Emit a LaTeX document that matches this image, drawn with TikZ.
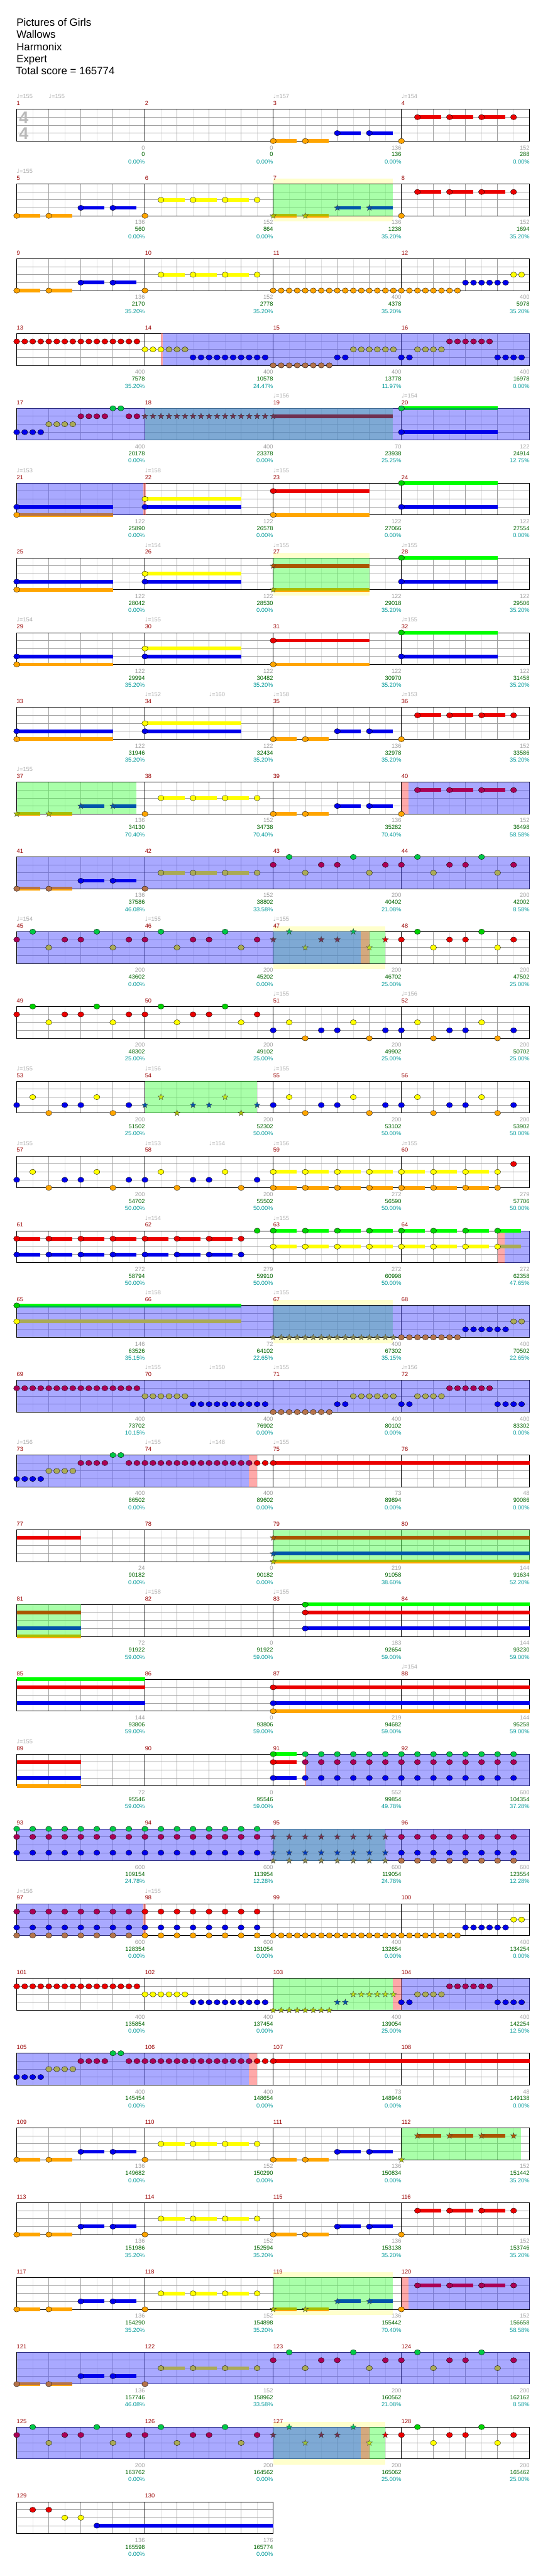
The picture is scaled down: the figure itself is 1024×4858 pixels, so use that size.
\documentclass[tikz,border=0pt]{standalone}
\usepackage{fontspec}
\setmainfont{Liberation Sans}
\newfontfamily\qsym{DejaVu Sans}
\usetikzlibrary{shapes.geometric}
\definecolor{cG}{RGB}{0,210,0}\definecolor{cGs}{RGB}{0,255,0}\definecolor{cGo}{RGB}{0,200,70}\definecolor{cGd}{RGB}{0,170,85}
\definecolor{cR}{RGB}{235,0,0}\definecolor{cRo}{RGB}{170,0,85}
\definecolor{cY}{RGB}{255,255,0}\definecolor{cYo}{RGB}{170,170,85}
\definecolor{cB}{RGB}{0,0,235}
\definecolor{cO}{RGB}{255,165,0}\definecolor{cOo}{RGB}{180,115,75}
\definecolor{sO}{RGB}{170,190,0}\definecolor{sB}{RGB}{0,85,170}\definecolor{sR}{RGB}{170,85,0}\definecolor{sY}{RGB}{190,230,20}\definecolor{sG}{RGB}{0,200,60}
\definecolor{tR}{RGB}{112,48,80}\definecolor{tO}{RGB}{138,138,80}\definecolor{tB}{RGB}{0,60,190}\definecolor{tG}{RGB}{0,190,90}\definecolor{tY}{RGB}{150,190,60}
\definecolor{od}{RGB}{85,85,255}\definecolor{sp}{RGB}{85,255,85}\definecolor{pk}{RGB}{255,85,85}\definecolor{hl}{RGB}{255,255,204}
\definecolor{mred}{RGB}{153,0,0}\definecolor{sgray}{RGB}{160,160,160}\definecolor{sgreen}{RGB}{0,100,0}\definecolor{steal}{RGB}{0,153,153}\definecolor{tgray}{RGB}{170,170,170}
\definecolor{gA}{RGB}{225,225,225}\definecolor{gB}{RGB}{160,160,160}
\newcommand\qfs{\fontsize{11}{13}\selectfont}
\tikzset{
 rowat/.style={xshift=31.5pt,yshift={-(206+141*(#1-1))*1pt},x=60.5pt,y=-1pt},
 mnum/.style={anchor=west,inner sep=0pt,text=mred,font=\qfs},
 lg/.style={anchor=east,inner sep=0pt,text=sgray,font=\qfs},
 lgr/.style={anchor=east,inner sep=0pt,text=sgreen,font=\qfs},
 ltl/.style={anchor=east,inner sep=0pt,text=steal,font=\qfs},
 tmp/.style={anchor=west,inner sep=0pt,text=tgray,font=\qfs},
 qstar/.style={star,star points=5,star point ratio=2.4,minimum size=12pt,inner sep=0pt,draw=black!75,line width=0.4pt},
 ttl/.style={anchor=base west,inner sep=0pt,font=\fontsize{20}{24}\selectfont},
 tsig/.style={inner sep=0pt,text=black!27,font=\fontsize{32}{32}\selectfont\bfseries}
}
\newcommand\qN[3]{\filldraw[fill=#3,draw=black,line width=0.4pt] (#1,{15*#2}) ellipse [x radius=5.8pt,y radius=5pt];}
\newcommand\qS[3]{\node[qstar,fill=#3] at (#1,{15*#2}) {};}
\newcommand\qU[4]{\fill[#4] (#1,{15*#2-3.5}) rectangle (#3,{15*#2+3.5});}
\newcommand\qUo[3]{\fill[cO] (#1,56.5) rectangle (#2,63.5);\fill[#3] (#1,56.5) rectangle (#2,61.5);}
\newcommand\qUg[2]{\fill[cGs] (#1,-3.5) rectangle (#2,0);\fill[cGd] (#1,0) rectangle (#2,3.5);}
\newcommand\qNU[5]{\qU{#1}{#2}{#3}{#5}\qN{#1}{#2}{#4}}
\newcommand\qCellA[4]{\qN{#1}{1}{#2}\qN{#1+0.5}{0}{#3}\qN{#1+1}{2}{#4}\qN{#1+1.5}{1}{#2}}
\newcommand\qCellB[4]{\qN{#1}{3}{#2}\qN{#1+0.5}{2}{#3}\qN{#1+1}{4}{#4}\qN{#1+1.5}{3}{#2}}
\newcommand\qPa[3]{\qNU{#1}{4}{#1+0.74}{#2}{#2}\qNU{#1+1}{4}{#1+1.74}{#2}{#2}\qNU{#1+2}{3}{#1+2.74}{#3}{#3}\qNU{#1+3}{3}{#1+3.74}{#3}{#3}}
\newcommand\qPb[3]{\qNU{#1+0.5}{#2}{#1+1.24}{#3}{#3}\qNU{#1+1.5}{#2}{#1+2.24}{#3}{#3}\qNU{#1+2.5}{#2}{#1+3.24}{#3}{#3}\qN{#1+3.5}{#2}{#3}}
\newcommand\qOD[2]{\fill[od,opacity=0.5] (#1,0) rectangle (#2,60);}
\newcommand\qSP[2]{\fill[sp,opacity=0.5] (#1,0) rectangle (#2,60);}
\newcommand\qPK[2]{\fill[pk,opacity=0.5] (#1,0) rectangle (#2,60);}
\newcommand\qHL[2]{\fill[hl] (#1,-10) rectangle (#2,71);}
\newcommand\qT[2]{\node[tmp] at (#1,-24) {{\qsym\char"2669}=#2};}
\newcommand\qC[4]{\node[lg] at ({4*#1},72.5) {#2};\node[lgr] at ({4*#1},85.5) {#3};\node[ltl] at ({4*#1},99) {#4};}
\newcommand\qG[2]{%
 \pgfmathtruncatemacro\qnb{4*#2}\pgfmathtruncatemacro\qnm{4*#2-4}\pgfmathtruncatemacro\qfm{4*#1-3}%
 \fill[white] (0,0) rectangle (\qnb,60);
 \foreach \i in {0.5,1.5,...,\qnb}{\draw[gA,line width=0.6pt] (\i,0)--(\i,60);}
 \foreach \i in {1,...,\qnb}{\draw[gB,line width=0.6pt] (\i,0)--(\i,60);}
 \foreach \i in {15,30,45}{\draw[gB,line width=1pt] (0,\i)--(\qnb,\i);}
 \foreach \i in {4,8,...,\qnm}{\draw[black,line width=0.6pt] (\i,0)--(\i,60);}
 \draw[black,line width=0.9pt] (0,0) rectangle (\qnb,60);
 \foreach \j in {1,...,#2}{\pgfmathtruncatemacro\qm{\qfm+\j-1}\node[mnum] at ({4*(\j-1)},-11) {\qm};}
}
\newcommand\qRunX[3]{%
 \foreach \b in {5.5,5.75,...,7.8}{\qN{\b}{3}{cB}}
 \foreach \b in {8,8.25,...,9.8}{\qN{\b}{4}{#1}}
 \qN{10}{3}{cB}\qN{10.25}{3}{cB}
 \foreach \b in {10.5,10.75,...,11.8}{\qN{\b}{2}{#2}}
 \qN{12}{3}{cB}\qN{12.25}{3}{cB}
 \foreach \b in {12.5,12.75,...,13.3}{\qN{\b}{2}{#2}}
 \foreach \b in {13.5,13.75,...,14.8}{\qN{\b}{1}{#3}}
 \foreach \b in {15,15.25,...,15.8}{\qN{\b}{3}{cB}}}
\newcommand\qRunY[3]{%
 \foreach \b in {#1,#1.25,...,13.8}{\qN{\b}{4}{#2}}
 \foreach \b in {14,14.25,...,15.3}{\qN{\b}{3}{cB}}
 \qN{15.5}{2}{#3}\qN{15.75}{2}{#3}}
\begin{document}
\begin{tikzpicture}[x=1pt,y=-1pt]
\useasboundingbox (0,0) rectangle (1024,4858);
\fill[white] (0,0) rectangle (1024,4858);
\node[ttl] at (31,49) {Pictures of Girls};
\node[ttl] at (31,72) {Wallows};
\node[ttl] at (31,95) {Harmonix};
\node[ttl] at (31,118) {Expert};
\node[ttl] at (30,141) {Total score = 165774};
% ---- row 1
\begin{scope}[rowat=1]
\qG{1}{4}
\qT{0}{155}\qT{1}{155}\qT{8}{157}\qT{12}{154}
\node[tsig] at (0.22,15.5) {4};\node[tsig] at (0.22,45.5) {4};
\qPa{8}{cO}{cB}\qN{12}{4}{cO}\qPb{12}{1}{cR}
\qC{1}{0}{0}{0.00\%}\qC{2}{0}{0}{0.00\%}\qC{3}{136}{136}{0.00\%}\qC{4}{152}{288}{0.00\%}
\end{scope}
% ---- row 2
\begin{scope}[rowat=2]
\qHL{8}{11.74}
\qG{2}{4}
\qT{0}{155}
\qSP{8}{11.74}
\qPa{0}{cO}{cB}\qN{4}{4}{cO}\qPb{4}{2}{cY}
\qUo{8}{8.74}{sO}\qS{8}{4}{sO}\qUo{9}{9.74}{sO}\qS{9}{4}{sO}
\qU{10}{3}{10.74}{sB}\qS{10}{3}{sB}\qU{11}{3}{11.74}{sB}\qS{11}{3}{sB}
\qN{12}{4}{cO}\qPb{12}{1}{cR}
\qC{1}{136}{560}{0.00\%}\qC{2}{152}{864}{0.00\%}\qC{3}{136}{1238}{35.20\%}\qC{4}{152}{1694}{35.20\%}
\end{scope}
% ---- row 3
\begin{scope}[rowat=3]
\qG{3}{4}
\qPa{0}{cO}{cB}\qN{4}{4}{cO}\qPb{4}{2}{cY}
\qRunY{8}{cO}{cY}
\qC{1}{136}{2170}{35.20\%}\qC{2}{152}{2778}{35.20\%}\qC{3}{400}{4378}{35.20\%}\qC{4}{400}{5978}{35.20\%}
\end{scope}
% ---- row 4
\begin{scope}[rowat=4]
\qG{4}{4}
\qPK{4.5}{4.56}\qOD{4.56}{16}
\foreach \b in {0,0.25,...,3.8}{\qN{\b}{1}{cR}}
\qN{4}{2}{cY}\qN{4.25}{2}{cY}\qN{4.5}{2}{cY}
\foreach \b in {4.75,5,5.25}{\qN{\b}{2}{cYo}}
\qRunX{cOo}{cYo}{cRo}
\qC{1}{400}{7578}{35.20\%}\qC{2}{400}{10578}{24.47\%}\qC{3}{400}{13778}{11.97\%}\qC{4}{400}{16978}{0.00\%}
\end{scope}
% ---- row 5
\begin{scope}[rowat=5]
\qG{5}{4}
\qT{8}{156}\qT{12}{154}
\qSP{4}{11.74}\qOD{0}{16}
\foreach \b in {0,0.25,...,0.8}{\qN{\b}{3}{cB}}
\foreach \b in {1,1.25,...,1.8}{\qN{\b}{2}{cYo}}
\foreach \b in {2,2.25,...,2.8}{\qN{\b}{1}{cRo}}
\qN{3}{0}{cGo}\qN{3.25}{0}{cGo}\qN{3.5}{1}{cRo}\qN{3.75}{1}{cRo}
\qU{8}{1}{11.74}{tR}
\foreach \b in {4,4.25,...,8.1}{\qS{\b}{1}{tR}}
\qUg{12}{15}\qN{12}{0}{cGo}\qNU{12}{3}{15}{cB}{cB}
\qC{1}{400}{20178}{0.00\%}\qC{2}{400}{23378}{0.00\%}\qC{3}{70}{23938}{25.25\%}\qC{4}{122}{24914}{12.75\%}
\end{scope}
% ---- row 6
\begin{scope}[rowat=6]
\qG{6}{4}
\qT{0}{153}\qT{4}{158}\qT{8}{155}
\qOD{0}{3.95}\qPK{3.95}{4.03}
\qNU{0}{3}{3}{cB}{cB}\qUo{0}{3}{cOo}\qN{0}{4}{cO}
\qNU{4}{2}{7}{cY}{cY}\qNU{4}{3}{7}{cB}{cB}
\qNU{8}{1}{11}{cR}{cR}\qNU{8}{4}{11}{cO}{cO}
\qNU{12}{0}{15}{cG}{cGs}\qNU{12}{3}{15}{cB}{cB}
\qC{1}{122}{25890}{0.00\%}\qC{2}{122}{26578}{0.00\%}\qC{3}{122}{27066}{0.00\%}\qC{4}{122}{27554}{0.00\%}
\end{scope}
% ---- row 7
\begin{scope}[rowat=7]
\qHL{8}{11}
\qG{7}{4}
\qT{4}{154}\qT{8}{155}\qT{12}{155}
\qSP{8}{11}
\qNU{0}{3}{3}{cB}{cB}\qNU{0}{4}{3}{cO}{cO}
\qNU{4}{2}{7}{cY}{cY}\qNU{4}{3}{7}{cB}{cB}
\qU{8}{1}{11}{sR}\qS{8}{1}{sR}\qUo{8}{11}{sO}\qS{8}{4}{sO}
\qNU{12}{0}{15}{cG}{cGs}\qNU{12}{3}{15}{cB}{cB}
\qC{1}{122}{28042}{0.00\%}\qC{2}{122}{28530}{0.00\%}\qC{3}{122}{29018}{35.20\%}\qC{4}{122}{29506}{35.20\%}
\end{scope}
% ---- row 8
\begin{scope}[rowat=8]
\qG{8}{4}
\qT{0}{154}\qT{4}{155}\qT{12}{155}
\qNU{0}{3}{3}{cB}{cB}\qNU{0}{4}{3}{cO}{cO}
\qNU{4}{2}{7}{cY}{cY}\qNU{4}{3}{7}{cB}{cB}
\qNU{8}{1}{11}{cR}{cR}\qNU{8}{4}{11}{cO}{cO}
\qNU{12}{0}{15}{cG}{cGs}\qNU{12}{3}{15}{cB}{cB}
\qC{1}{122}{29994}{35.20\%}\qC{2}{122}{30482}{35.20\%}\qC{3}{122}{30970}{35.20\%}\qC{4}{122}{31458}{35.20\%}
\end{scope}
% ---- row 9
\begin{scope}[rowat=9]
\qG{9}{4}
\qT{4}{152}\qT{6}{160}\qT{8}{158}\qT{12}{153}
\qNU{0}{3}{3}{cB}{cB}\qNU{0}{4}{3}{cO}{cO}
\qNU{4}{2}{7}{cY}{cY}\qNU{4}{3}{7}{cB}{cB}
\qPa{8}{cO}{cB}\qN{12}{4}{cO}\qPb{12}{1}{cR}
\qC{1}{122}{31946}{35.20\%}\qC{2}{122}{32434}{35.20\%}\qC{3}{136}{32978}{35.20\%}\qC{4}{152}{33586}{35.20\%}
\end{scope}
% ---- row 10
\begin{scope}[rowat=10]
\qG{10}{4}
\qT{0}{155}
\qSP{0}{3.74}\qPK{12}{12.22}\qOD{12.22}{16}
\qUo{0}{0.74}{sO}\qS{0}{4}{sO}\qUo{1}{1.74}{sO}\qS{1}{4}{sO}
\qU{2}{3}{2.74}{sB}\qS{2}{3}{sB}\qU{3}{3}{3.74}{sB}\qS{3}{3}{sB}
\qN{4}{4}{cO}\qPb{4}{2}{cY}\qPa{8}{cO}{cB}
\qN{12}{4}{cO}\qPb{12}{1}{cRo}
\qC{1}{136}{34130}{70.40\%}\qC{2}{152}{34738}{70.40\%}\qC{3}{136}{35282}{70.40\%}\qC{4}{152}{36498}{58.58\%}
\end{scope}
% ---- row 11
\begin{scope}[rowat=11]
\qG{11}{4}
\qOD{0}{16}
\qUo{0}{0.74}{cOo}\qN{0}{4}{cOo}\qUo{1}{1.74}{cOo}\qN{1}{4}{cOo}
\qNU{2}{3}{2.74}{cB}{cB}\qNU{3}{3}{3.74}{cB}{cB}
\qN{4}{4}{cOo}\qPb{4}{2}{cYo}
\foreach \o in {8,10,12,14}{\qCellA{\o}{cRo}{cGo}{cYo}}
\qC{1}{136}{37586}{46.08\%}\qC{2}{152}{38802}{33.58\%}\qC{3}{200}{40402}{21.08\%}\qC{4}{200}{42002}{8.58\%}
\end{scope}
% ---- row 12
\begin{scope}[rowat=12]
\qHL{8}{11.5}
\qG{12}{4}
\qT{0}{154}\qT{4}{155}\qT{8}{155}
\qSP{8}{11.5}\qOD{0}{10.74}\qPK{10.74}{11}
\foreach \o in {0,2,4,6}{\qCellA{\o}{cRo}{cGo}{cYo}}
\qS{8}{1}{tR}\qS{8.5}{0}{tG}\qS{9}{2}{tY}\qS{9.5}{1}{tR}\qS{10}{1}{tR}\qS{10.5}{0}{tG}\qS{11}{2}{sY}\qS{11.5}{1}{cR}
\foreach \o in {12,14}{\qCellA{\o}{cR}{cG}{cY}}
\qC{1}{200}{43602}{0.00\%}\qC{2}{200}{45202}{0.00\%}\qC{3}{200}{46702}{25.00\%}\qC{4}{200}{47502}{25.00\%}
\end{scope}
% ---- row 13
\begin{scope}[rowat=13]
\qG{13}{4}
\qT{8}{155}\qT{12}{156}
\foreach \o in {0,2,4,6}{\qCellA{\o}{cR}{cG}{cY}}
\foreach \o in {8,10,12,14}{\qCellB{\o}{cB}{cY}{cO}}
\qC{1}{200}{48302}{25.00\%}\qC{2}{200}{49102}{25.00\%}\qC{3}{200}{49902}{25.00\%}\qC{4}{200}{50702}{25.00\%}
\end{scope}
% ---- row 14
\begin{scope}[rowat=14]
\qG{14}{4}
\qT{0}{155}\qT{4}{156}\qT{8}{155}
\qSP{4}{7.5}
\foreach \o in {0,2}{\qCellB{\o}{cB}{cY}{cO}}
\qS{4}{3}{sB}\qS{4.5}{2}{sY}\qS{5}{4}{sO}\qS{5.5}{3}{sB}\qS{6}{3}{sB}\qS{6.5}{2}{sY}\qS{7}{4}{sO}\qS{7.5}{3}{sB}
\foreach \o in {8,10,12,14}{\qCellB{\o}{cB}{cY}{cO}}
\qC{1}{200}{51502}{25.00\%}\qC{2}{200}{52302}{50.00\%}\qC{3}{200}{53102}{50.00\%}\qC{4}{200}{53902}{50.00\%}
\end{scope}
% ---- row 15
\begin{scope}[rowat=15]
\qG{15}{4}
\qT{0}{155}\qT{4}{153}\qT{6}{154}\qT{8}{156}\qT{12}{155}
\foreach \o in {0,2,4,6}{\qCellB{\o}{cB}{cY}{cO}}
\foreach \b in {8,...,14}{\qNU{\b}{2}{\b+0.74}{cY}{cY}\qNU{\b}{4}{\b+0.74}{cO}{cO}}
\qN{15}{2}{cY}\qN{15}{4}{cO}\qN{15.5}{1}{cR}
\qC{1}{200}{54702}{50.00\%}\qC{2}{200}{55502}{50.00\%}\qC{3}{272}{56590}{50.00\%}\qC{4}{279}{57706}{50.00\%}
\end{scope}
% ---- row 16
\begin{scope}[rowat=16]
\qG{16}{4}
\qT{4}{154}\qT{8}{155}
\qPK{15}{15.22}\qOD{15.22}{16}
\foreach \b in {0,...,6}{\qNU{\b}{1}{\b+0.74}{cR}{cR}\qNU{\b}{3}{\b+0.74}{cB}{cB}}
\qN{7}{1}{cR}\qN{7}{3}{cB}\qN{7.5}{0}{cG}
\foreach \b in {8,...,14}{\qNU{\b}{0}{\b+0.74}{cG}{cGs}\qNU{\b}{2}{\b+0.74}{cY}{cY}}
\qNU{15}{0}{15.74}{cG}{cGs}\qNU{15}{2}{15.74}{cY}{cYo}
\qC{1}{272}{58794}{50.00\%}\qC{2}{279}{59910}{50.00\%}\qC{3}{272}{60998}{50.00\%}\qC{4}{272}{62358}{47.65\%}
\end{scope}
% ---- row 17
\begin{scope}[rowat=17]
\qHL{8}{11.74}
\qG{17}{4}
\qT{4}{158}\qT{8}{155}
\qSP{8}{11.74}\qOD{0}{16}
\qUg{0}{7}\qN{0}{0}{cG}\qU{0}{2}{7}{cYo}\qN{0}{2}{cY}
\foreach \b in {8,8.25,...,11.8}{\qS{\b}{4}{tO}}
\qRunY{12}{cOo}{cYo}
\qC{1}{146}{63526}{35.15\%}\qC{2}{72}{64102}{22.65\%}\qC{3}{400}{67302}{35.15\%}\qC{4}{400}{70502}{22.65\%}
\end{scope}
% ---- row 18
\begin{scope}[rowat=18]
\qG{18}{4}
\qT{4}{155}\qT{6}{150}\qT{8}{155}\qT{12}{156}
\qOD{0}{16}
\foreach \b in {0,0.25,...,3.8}{\qN{\b}{1}{cRo}}
\foreach \b in {4,4.25,...,5.3}{\qN{\b}{2}{cYo}}
\qRunX{cOo}{cYo}{cRo}
\qC{1}{400}{73702}{10.15\%}\qC{2}{400}{76902}{0.00\%}\qC{3}{400}{80102}{0.00\%}\qC{4}{400}{83302}{0.00\%}
\end{scope}
% ---- row 19
\begin{scope}[rowat=19]
\qG{19}{4}
\qT{0}{156}\qT{4}{155}\qT{6}{148}\qT{8}{155}
\qOD{0}{7.25}\qPK{7.25}{7.5}
\foreach \b in {0,0.25,...,0.8}{\qN{\b}{3}{cB}}
\foreach \b in {1,1.25,...,1.8}{\qN{\b}{2}{cYo}}
\foreach \b in {2,2.25,...,2.8}{\qN{\b}{1}{cRo}}
\qN{3}{0}{cGo}\qN{3.25}{0}{cGo}
\foreach \b in {3.5,3.75,...,7.3}{\qN{\b}{1}{cRo}}
\qN{7.5}{1}{cR}\qN{7.75}{1}{cR}\qNU{8}{1}{16}{cR}{cR}
\qC{1}{400}{86502}{0.00\%}\qC{2}{400}{89602}{0.00\%}\qC{3}{73}{89894}{0.00\%}\qC{4}{48}{90086}{0.00\%}
\end{scope}
% ---- row 20
\begin{scope}[rowat=20]
\qG{20}{4}
\qSP{8}{16}
\qU{0}{1}{2}{cR}
\qU{8}{1}{16}{sR}\qS{8}{1}{sR}\qU{8}{3}{16}{sB}\qS{8}{3}{sB}\qUo{8}{16}{sO}\qS{8}{4}{sO}
\qC{1}{24}{90182}{0.00\%}\qC{2}{0}{90182}{0.00\%}\qC{3}{219}{91058}{38.60\%}\qC{4}{144}{91634}{52.20\%}
\end{scope}
% ---- row 21
\begin{scope}[rowat=21]
\qG{21}{4}
\qT{4}{158}\qT{8}{155}
\qSP{0}{2}
\qU{0}{1}{2}{sR}\qU{0}{3}{2}{sB}\qUo{0}{2}{sO}
\qNU{9}{0}{16}{cG}{cGs}\qNU{9}{1}{16}{cR}{cR}\qNU{9}{3}{16}{cB}{cB}
\qC{1}{72}{91922}{59.00\%}\qC{2}{0}{91922}{59.00\%}\qC{3}{183}{92654}{59.00\%}\qC{4}{144}{93230}{59.00\%}
\end{scope}
% ---- row 22
\begin{scope}[rowat=22]
\qG{22}{4}
\qT{12}{154}
\qU{0}{0}{4}{cGs}\qU{0}{1}{4}{cR}\qU{0}{3}{4}{cB}
\qNU{8}{1}{16}{cR}{cR}\qNU{8}{3}{16}{cB}{cB}\qNU{8}{4}{16}{cO}{cO}
\qC{1}{144}{93806}{59.00\%}\qC{2}{0}{93806}{59.00\%}\qC{3}{219}{94682}{59.00\%}\qC{4}{144}{95258}{59.00\%}
\end{scope}
% ---- row 23
\begin{scope}[rowat=23]
\qG{23}{4}
\qT{0}{155}
\qPK{8.98}{9.02}\qOD{9.02}{16}
\qU{0}{1}{2}{cR}\qU{0}{3}{2}{cB}\qU{0}{4}{2}{cO}
\qNU{8}{0}{8.74}{cG}{cGs}\qNU{8}{1}{8.74}{cR}{cR}\qNU{8}{3}{8.74}{cB}{cB}
\foreach \b in {9,9.5,...,15.6}{\qN{\b}{0}{cGo}\qN{\b}{1}{cRo}\qN{\b}{3}{cB}}
\qC{1}{72}{95546}{59.00\%}\qC{2}{0}{95546}{59.00\%}\qC{3}{552}{99854}{49.78\%}\qC{4}{600}{104354}{37.28\%}
\end{scope}
% ---- row 24
\begin{scope}[rowat=24]
\qG{24}{4}
\qSP{8}{11.5}\qOD{0}{16}
\foreach \b in {0,0.5,...,7.6}{\qN{\b}{0}{cGo}\qN{\b}{1}{cRo}\qN{\b}{3}{cB}}
\foreach \b in {8,8.5,...,11.6}{\qS{\b}{1}{tR}\qS{\b}{3}{tB}\qS{\b}{4}{tO}}
\foreach \b in {12,12.5,...,15.6}{\qN{\b}{1}{cRo}\qN{\b}{3}{cB}\qN{\b}{4}{cOo}}
\qC{1}{600}{109154}{24.78\%}\qC{2}{600}{113954}{12.28\%}\qC{3}{600}{119054}{24.78\%}\qC{4}{600}{123554}{12.28\%}
\end{scope}
% ---- row 25
\begin{scope}[rowat=25]
\qG{25}{4}
\qT{0}{156}\qT{4}{155}
\qOD{0}{3.95}\qPK{3.95}{4.02}
\foreach \b in {0,0.5,...,3.6}{\qN{\b}{1}{cRo}\qN{\b}{3}{cB}\qN{\b}{4}{cOo}}
\foreach \b in {4,4.5,...,7.6}{\qN{\b}{1}{cR}\qN{\b}{3}{cB}\qN{\b}{4}{cO}}
\qRunY{8}{cO}{cY}
\qC{1}{600}{128354}{0.00\%}\qC{2}{600}{131054}{0.00\%}\qC{3}{400}{132654}{0.00\%}\qC{4}{400}{134254}{0.00\%}
\end{scope}
% ---- row 26
\begin{scope}[rowat=26]
\qG{26}{4}
\qSP{8}{11.74}\qPK{11.74}{12}\qOD{12}{16}
\foreach \b in {0,0.25,...,3.8}{\qN{\b}{1}{cR}}
\foreach \b in {4,4.25,...,5.3}{\qN{\b}{2}{cY}}
\foreach \b in {5.5,5.75,...,7.8}{\qN{\b}{3}{cB}}
\foreach \b in {8,8.25,...,9.8}{\qS{\b}{4}{sO}}
\qS{10}{3}{sB}\qS{10.25}{3}{sB}
\foreach \b in {10.5,10.75,...,11.8}{\qS{\b}{2}{sY}}
\qN{12}{3}{cB}\qN{12.25}{3}{cB}
\foreach \b in {12.5,12.75,...,13.3}{\qN{\b}{2}{cYo}}
\foreach \b in {13.5,13.75,...,14.8}{\qN{\b}{1}{cRo}}
\foreach \b in {15,15.25,...,15.8}{\qN{\b}{3}{cB}}
\qC{1}{400}{135854}{0.00\%}\qC{2}{400}{137454}{0.00\%}\qC{3}{400}{139054}{25.00\%}\qC{4}{400}{142254}{12.50\%}
\end{scope}
% ---- row 27
\begin{scope}[rowat=27]
\qG{27}{4}
\qOD{0}{7.25}\qPK{7.25}{7.5}
\foreach \b in {0,0.25,...,0.8}{\qN{\b}{3}{cB}}
\foreach \b in {1,1.25,...,1.8}{\qN{\b}{2}{cYo}}
\foreach \b in {2,2.25,...,2.8}{\qN{\b}{1}{cRo}}
\qN{3}{0}{cGo}\qN{3.25}{0}{cGo}
\foreach \b in {3.5,3.75,...,7.3}{\qN{\b}{1}{cRo}}
\qN{7.5}{1}{cR}\qN{7.75}{1}{cR}\qNU{8}{1}{16}{cR}{cR}
\qC{1}{400}{145454}{0.00\%}\qC{2}{400}{148654}{0.00\%}\qC{3}{73}{148946}{0.00\%}\qC{4}{48}{149138}{0.00\%}
\end{scope}
% ---- row 28
\begin{scope}[rowat=28]
\qG{28}{4}
\qSP{12}{15.74}
\qPa{0}{cO}{cB}\qN{4}{4}{cO}\qPb{4}{2}{cY}\qPa{8}{cO}{cB}
\qS{12}{4}{sO}
\qU{12.5}{1}{13.24}{sR}\qS{12.5}{1}{sR}\qU{13.5}{1}{14.24}{sR}\qS{13.5}{1}{sR}\qU{14.5}{1}{15.24}{sR}\qS{14.5}{1}{sR}\qS{15.5}{1}{sR}
\qC{1}{136}{149682}{0.00\%}\qC{2}{152}{150290}{0.00\%}\qC{3}{136}{150834}{0.00\%}\qC{4}{152}{151442}{35.20\%}
\end{scope}
% ---- row 29
\begin{scope}[rowat=29]
\qG{29}{4}
\qPa{0}{cO}{cB}\qN{4}{4}{cO}\qPb{4}{2}{cY}\qPa{8}{cO}{cB}\qN{12}{4}{cO}\qPb{12}{1}{cR}
\qC{1}{136}{151986}{35.20\%}\qC{2}{152}{152594}{35.20\%}\qC{3}{136}{153138}{35.20\%}\qC{4}{152}{153746}{35.20\%}
\end{scope}
% ---- row 30
\begin{scope}[rowat=30]
\qHL{8}{11.74}
\qG{30}{4}
\qSP{8}{11.74}\qPK{12}{12.22}\qOD{12.22}{16}
\qPa{0}{cO}{cB}\qN{4}{4}{cO}\qPb{4}{2}{cY}
\qUo{8}{8.74}{sO}\qS{8}{4}{sO}\qUo{9}{9.74}{sO}\qS{9}{4}{sO}
\qU{10}{3}{10.74}{sB}\qS{10}{3}{sB}\qU{11}{3}{11.74}{sB}\qS{11}{3}{sB}
\qN{12}{4}{cO}\qPb{12}{1}{cRo}
\qC{1}{136}{154290}{35.20\%}\qC{2}{152}{154898}{35.20\%}\qC{3}{136}{155442}{70.40\%}\qC{4}{152}{156658}{58.58\%}
\end{scope}
% ---- row 31
\begin{scope}[rowat=31]
\qG{31}{4}
\qOD{0}{16}
\qUo{0}{0.74}{cOo}\qN{0}{4}{cOo}\qUo{1}{1.74}{cOo}\qN{1}{4}{cOo}
\qNU{2}{3}{2.74}{cB}{cB}\qNU{3}{3}{3.74}{cB}{cB}
\qN{4}{4}{cOo}\qPb{4}{2}{cYo}
\foreach \o in {8,10,12,14}{\qCellA{\o}{cRo}{cGo}{cYo}}
\qC{1}{136}{157746}{46.08\%}\qC{2}{152}{158962}{33.58\%}\qC{3}{200}{160562}{21.08\%}\qC{4}{200}{162162}{8.58\%}
\end{scope}
% ---- row 32
\begin{scope}[rowat=32]
\qHL{8}{11.5}
\qG{32}{4}
\qSP{8}{11.5}\qOD{0}{10.74}\qPK{10.74}{11}
\foreach \o in {0,2,4,6}{\qCellA{\o}{cRo}{cGo}{cYo}}
\qS{8}{1}{tR}\qS{8.5}{0}{tG}\qS{9}{2}{tY}\qS{9.5}{1}{tR}\qS{10}{1}{tR}\qS{10.5}{0}{tG}\qS{11}{2}{sY}\qS{11.5}{1}{cR}
\foreach \o in {12,14}{\qCellA{\o}{cR}{cG}{cY}}
\qC{1}{200}{163762}{0.00\%}\qC{2}{200}{164562}{0.00\%}\qC{3}{200}{165062}{25.00\%}\qC{4}{200}{165462}{25.00\%}
\end{scope}
% ---- row 33
\begin{scope}[rowat=33]
\qG{33}{2}
\qN{0.5}{1}{cR}\qN{1}{1}{cR}\qN{1.5}{2}{cY}\qN{2}{2}{cY}\qNU{2.5}{3}{8}{cB}{cB}
\qC{1}{136}{165598}{0.00\%}\qC{2}{176}{165774}{0.00\%}
\end{scope}
\end{tikzpicture}
\end{document}
